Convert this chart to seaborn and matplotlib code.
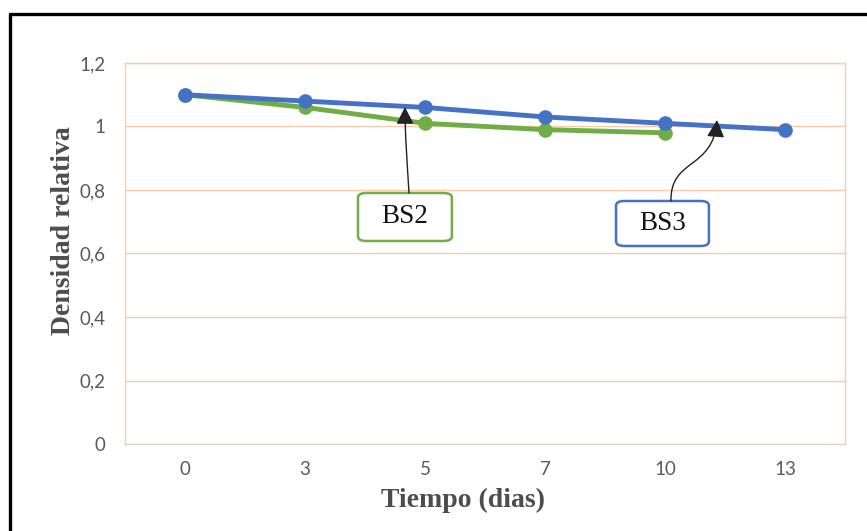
import matplotlib
matplotlib.use("Agg")
import matplotlib.pyplot as plt
from matplotlib.lines import Line2D
from matplotlib.patches import FancyBboxPatch, FancyArrowPatch
from matplotlib.path import Path
import seaborn as sns
import pandas as pd

# Measurement days and relative density per sample
dias = ["0", "3", "5", "7", "10", "13"]
bs2 = [1.10, 1.06, 1.01, 0.99, 0.98]
bs3 = [1.10, 1.08, 1.06, 1.03, 1.01, 0.99]
y_ticks = [0, 0.2, 0.4, 0.6, 0.8, 1.0, 1.2]
y_tick_labels = ["0", "0,2", "0,4", "0,6", "0,8", "1", "1,2"]

GREEN = "#70AD47"
BLUE = "#4472C4"
PEACH = "#F8CBAD"
TICK_GRAY = "#595959"
LABEL_GRAY = "#4D4D4D"

sns.set_theme(style="white")
plt.rcParams["font.family"] = ["Lato", "DejaVu Sans"]

df2 = pd.DataFrame({"Dia": dias[:len(bs2)], "Densidad": bs2})
df3 = pd.DataFrame({"Dia": dias[:len(bs3)], "Densidad": bs3})

fig = plt.figure(figsize=(8.67, 5.31), dpi=100)
ax = fig.add_axes([0.1442, 0.1638, 0.8304, 0.7176])

sns.lineplot(data=df2, x="Dia", y="Densidad", ax=ax, color=GREEN,
             linewidth=3.5, marker="o", markersize=10.5,
             markeredgewidth=0, sort=False, zorder=3)
sns.lineplot(data=df3, x="Dia", y="Densidad", ax=ax, color=BLUE,
             linewidth=3.5, marker="o", markersize=10.5,
             markeredgewidth=0, sort=False, zorder=4)

ax.set_xlim(-0.5, 5.5)
ax.set_ylim(0, 1.2)
ax.set_yticks(y_ticks)
ax.set_yticklabels(y_tick_labels)
ax.yaxis.grid(True, color=PEACH, linewidth=1.0)
ax.xaxis.grid(False)
ax.set_axisbelow(True)
ax.tick_params(axis="both", length=0, labelsize=13.5, labelcolor=TICK_GRAY)
ax.tick_params(axis="y", pad=14)
ax.tick_params(axis="x", pad=12)
for side in ("left", "right", "top"):
    ax.spines[side].set_color(PEACH)
    ax.spines[side].set_linewidth(1.0)
ax.spines["bottom"].set_color("#E3D3CB")
ax.spines["bottom"].set_linewidth(1.0)

serif = ["Liberation Serif", "DejaVu Serif"]
ax.set_xlabel("Tiempo (dias)", family=serif, fontweight="bold",
              fontsize=20, color=LABEL_GRAY, va="center")
ax.set_ylabel("Densidad relativa", family=serif, fontweight="bold",
              fontsize=20, color=LABEL_GRAY, va="center")
ax.xaxis.set_label_coords(0.470, -0.147)
ax.yaxis.set_label_coords(-0.0855, 0.560)

# Callout boxes naming each series
def callout(x0, y0, x1, y1, label, edge):
    box = FancyBboxPatch((x0, y0), x1 - x0, y1 - y0,
                         boxstyle="round,pad=0,rounding_size=0.012",
                         transform=ax.transAxes, facecolor="white",
                         edgecolor=edge, linewidth=1.8, zorder=6,
                         clip_on=False)
    ax.add_patch(box)
    ax.text((x0 + x1) / 2, (y0 + y1) / 2, label, transform=ax.transAxes,
            ha="center", va="center", family=serif, fontsize=19.5,
            color="#111111", zorder=7)

callout(0.3236, 0.5328, 0.4540, 0.6588, "BS2", GREEN)
callout(0.6820, 0.5197, 0.8110, 0.6378, "BS3", BLUE)

# Arrows from the callouts to their lines
def px_to_data(px, py):
    return ((px - 184.0) / 120.0, (444.0 - py) / 317.5)

arrow_kw = dict(arrowstyle="-|>,head_length=0.75,head_width=0.38",
                mutation_scale=14, color="#222222", linewidth=1.0,
                zorder=8, shrinkA=0, shrinkB=0)

p2 = Path([px_to_data(408, 193), px_to_data(406, 160),
           px_to_data(404, 135), px_to_data(404, 107)],
          [Path.MOVETO, Path.CURVE4, Path.CURVE4, Path.CURVE4])
ax.add_patch(FancyArrowPatch(path=p2, **arrow_kw))

p3 = Path([px_to_data(670, 201), px_to_data(669, 158),
           px_to_data(712, 170), px_to_data(716, 120)],
          [Path.MOVETO, Path.CURVE4, Path.CURVE4, Path.CURVE4])
ax.add_patch(FancyArrowPatch(path=p3, **arrow_kw))

# Black frame on the top and left edges
fig.add_artist(Line2D([8.5 / 867, 1.0], [1 - 13.5 / 531, 1 - 13.5 / 531],
                      transform=fig.transFigure, color="black",
                      linewidth=2.4, solid_capstyle="butt"))
fig.add_artist(Line2D([9.5 / 867, 9.5 / 867], [0.0, 1 - 12.5 / 531],
                      transform=fig.transFigure, color="black",
                      linewidth=2.4, solid_capstyle="butt"))

fig.savefig("out.png", dpi=100)
